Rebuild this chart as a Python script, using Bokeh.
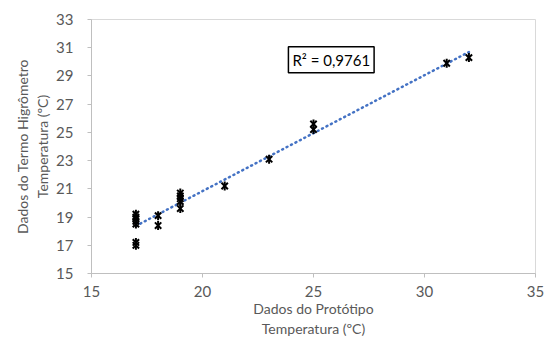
import numpy as np
from bokeh.plotting import figure
from bokeh.models import Range1d, FixedTicker, Label, ColumnDataSource
from bokeh.embed import file_html
from bokeh.resources import INLINE

# data
prototipo = [17, 17, 17, 17, 17, 17, 17, 18, 18, 19, 19, 19, 19, 19, 21, 23, 25, 25, 31, 32]
termo = [17.0, 17.2, 18.5, 18.7, 18.9, 19.0, 19.2, 18.4, 19.1, 19.6, 20.1, 20.3, 20.5, 20.7,
         21.2, 23.1, 25.2, 25.6, 29.9, 30.3]
x_ticks = [15, 20, 25, 30, 35]
y_ticks = [15, 17, 19, 21, 23, 25, 27, 29, 31, 33]
r2_text = "R\u00b2 = 0,9761"
x_title = "Dados do Prot\u00f3tipo\nTemperatura (\u00baC)"
y_title = "Dados do Termo Higr\u00f4metro\nTemperatura (\u00baC)"

FONT = "Lato"

p = figure(width=551, height=340, output_backend="svg", toolbar_location=None,
           x_range=Range1d(15, 35), y_range=Range1d(15, 33))
p.min_border_left = 91
p.min_border_right = 16
p.min_border_top = 19
p.min_border_bottom = 67
p.background_fill_color = "white"
p.border_fill_color = "white"
p.outline_line_color = "#D9D9D9"
p.xgrid.visible = False
p.ygrid.visible = False

src = ColumnDataSource(dict(x=prototipo, y=termo))

# trend line (least squares)
slope, intercept = np.polyfit(prototipo, termo, 1)
tx = np.array([min(prototipo), max(prototipo)], dtype=float)
p.line(tx, slope * tx + intercept, line_color="#4472C4", line_width=2.5,
       line_dash="1 4", line_cap="round")

p.scatter("x", "y", source=src, marker="x", size=9, line_color="black", line_width=2)
p.scatter("x", "y", source=src, marker="dash", angle=np.pi / 2, size=9,
          line_color="black", line_width=2)

for ax, ticks in ((p.xaxis[0], x_ticks), (p.yaxis[0], y_ticks)):
    ax.ticker = FixedTicker(ticks=ticks)
    ax.minor_tick_line_color = None
    ax.major_tick_out = 4
    ax.major_tick_in = 0
    ax.axis_line_color = "#BFBFBF"
    ax.major_tick_line_color = "#BFBFBF"
    ax.major_label_text_font = FONT
    ax.major_label_text_font_size = "15px"
    ax.major_label_text_color = "#595959"
    ax.axis_label_text_font = FONT
    ax.axis_label_text_font_size = "14px"
    ax.axis_label_text_font_style = "normal"
    ax.axis_label_text_color = "#595959"

p.xaxis[0].axis_label = x_title
p.yaxis[0].axis_label = y_title
p.xaxis[0].major_label_standoff = 8
p.xaxis[0].axis_label_standoff = 0
p.yaxis[0].major_label_standoff = 14
p.yaxis[0].axis_label_standoff = 2

p.add_layout(Label(x=25.8, y=30.15, text=r2_text, text_align="center", text_baseline="middle",
                   text_font=FONT, text_font_size="15px", text_color="black",
                   background_fill_color="white", border_line_color="black",
                   border_line_width=1.5, padding=4))

open("out.html", "w").write(file_html(p, INLINE))
